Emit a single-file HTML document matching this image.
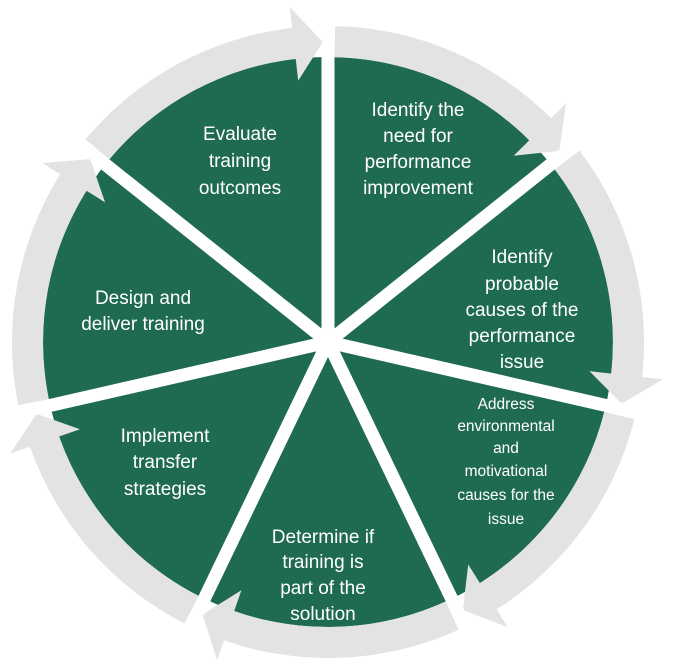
<!DOCTYPE html>
<html><head><meta charset="utf-8"><style>
html,body{margin:0;padding:0;background:#fff;width:676px;height:670px;overflow:hidden}
svg{display:block}
text{font-family:"Liberation Sans",sans-serif;fill:#fff;text-anchor:middle}
</style></head><body>
<svg id="s" width="676" height="670" viewBox="0 0 676 670" xmlns="http://www.w3.org/2000/svg">
<g id="pie"></g>
<g id="arrows"></g>
<g id="gaps"></g>
<g font-size="19">
<text x="418" y="116">Identify the</text><text x="418" y="142">need for</text><text x="418" y="168">performance</text><text x="418" y="194">improvement</text>
<text x="240" y="140">Evaluate</text><text x="240" y="167">training</text><text x="240" y="194">outcomes</text>
<text x="522" y="263">Identify</text><text x="522" y="290">probable</text><text x="522" y="316">causes of the</text><text x="522" y="342">performance</text><text x="522" y="368">issue</text>
<text x="323" y="543">Determine if</text><text x="323" y="568">training is</text><text x="323" y="594">part of the</text><text x="323" y="620">solution</text>
<text x="165" y="442">Implement</text><text x="165" y="468">transfer</text><text x="165" y="495">strategies</text>
<text x="143" y="304">Design and</text><text x="143" y="330">deliver training</text>
</g>
<g font-size="15.5">
<text x="506" y="409">Address</text><text x="506" y="431">environmental</text><text x="506" y="453">and</text><text x="506" y="476">motivational</text><text x="506" y="500">causes for the</text><text x="506" y="524">issue</text>
</g>
</svg>
<script>
var cx=328,cy=342,R=285,ns="http://www.w3.org/2000/svg";
function P(r,a){a=a*Math.PI/180;return [(cx+r*Math.sin(a)).toFixed(1),(cy-r*Math.cos(a)).toFixed(1)];}
function el(g,t,at){var e=document.createElementNS(ns,t);for(var k in at)e.setAttribute(k,at[k]);document.getElementById(g).appendChild(e);}
el("pie","circle",{cx:cx,cy:cy,r:R,fill:"#1f6b50"});
var S=360/7;
for(var k=0;k<7;k++){
 var a0=k*S+1.3,ab=(k+1)*S-6.5,at=(k+1)*S-1.0;
 var o1=P(316,a0),o2=P(316,ab),h1=P(337,ab),t=P(300,at),h2=P(263,ab),i2=P(285,ab),i1=P(285,a0);
 var d="M"+o1+" A316 316 0 0 1 "+o2+" L"+h1+" L"+t+" L"+h2+" L"+i2+" A285 285 0 0 0 "+i1+" Z";
 el("arrows","path",{d:d,fill:"#e3e3e3"});
 var e=P(300,k*S);
 el("gaps","line",{x1:cx,y1:cy,x2:e[0],y2:e[1],stroke:"#fff","stroke-width":13});
}
</script>
</body></html>
